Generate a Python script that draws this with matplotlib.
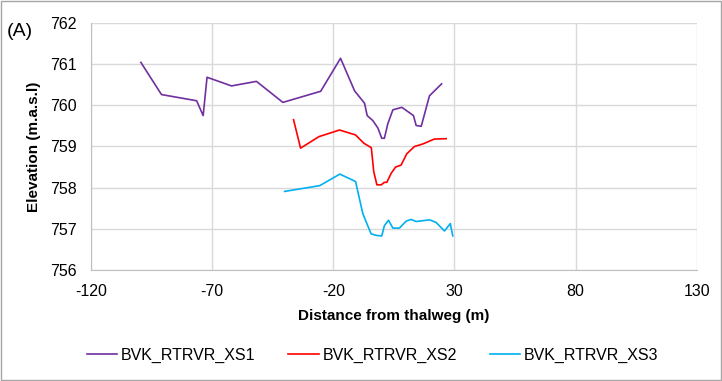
import matplotlib
matplotlib.use("Agg")
import matplotlib.pyplot as plt

plt.rcParams['font.family'] = ['Liberation Sans', 'DejaVu Sans']
plt.rcParams['axes.unicode_minus'] = False

# Cross-section profiles: distance from thalweg (m) and elevation (m.a.s.l)
xs1_dist = [-99.4, -90.9, -76.4, -73.7, -72.1, -62.0, -51.7, -40.8, -25.2, -17.0,
            -11.2, -7.1, -6.0, -3.7, -1.6, 0.0, 1.1, 2.5, 4.6, 8.3,
            13.1, 14.2, 16.3, 19.7, 24.7]
xs1_elev = [761.04, 760.26, 760.11, 759.75, 760.68, 760.47, 760.58, 760.07, 760.34, 761.14,
            760.35, 760.05, 759.75, 759.63, 759.45, 759.20, 759.20, 759.55, 759.89, 759.95,
            759.75, 759.51, 759.49, 760.23, 760.52]

xs2_dist = [-36.4, -33.5, -25.9, -17.4, -10.8, -7.4, -4.3, -3.3, -2.0, -0.2,
            1.1, 2.1, 3.9, 5.7, 8.0, 10.3, 13.5, 16.9, 21.7, 26.6]
xs2_elev = [759.65, 758.96, 759.24, 759.40, 759.28, 759.08, 758.97, 758.39, 758.07, 758.07,
            758.13, 758.13, 758.35, 758.50, 758.55, 758.82, 759.00, 759.06, 759.18, 759.19]

xs3_dist = [-40.1, -25.6, -17.3, -10.8, -7.8, -4.4, -2.0, 0.0, 1.1, 2.8,
            4.6, 7.3, 10.1, 12.1, 14.2, 19.7, 22.4, 25.9, 28.3, 29.3]
xs3_elev = [757.91, 758.05, 758.33, 758.15, 757.37, 756.88, 756.84, 756.83, 757.08, 757.21,
            757.02, 757.02, 757.19, 757.23, 757.18, 757.22, 757.16, 756.95, 757.13, 756.83]

series_names = ['BVK_RTRVR_XS1', 'BVK_RTRVR_XS2', 'BVK_RTRVR_XS3']
series_colors = ['#7030A0', '#FF0000', '#00B0F0']

x_ticks = [-120, -70, -20, 30, 80, 130]
y_ticks = [756, 757, 758, 759, 760, 761, 762]

fig = plt.figure(figsize=(7.22, 3.81), dpi=100)
ax = fig.add_axes([0.126, 0.291, 0.839, 0.649])

profiles = [(xs1_dist, xs1_elev), (xs2_dist, xs2_elev), (xs3_dist, xs3_elev)]
for (d, e), name, col in zip(profiles, series_names, series_colors):
    ax.plot(d, e, color=col, lw=1.2, label=name, solid_joinstyle='round')

ax.set_xlim(-120, 130)
ax.set_ylim(756, 762)
ax.set_xticks(x_ticks)
ax.set_yticks(y_ticks)
ax.grid(True, color='#d9d9d9', lw=1.0)
ax.set_axisbelow(True)
for side in ['top', 'right']:
    ax.spines[side].set_visible(False)
ax.spines['left'].set_color('#bfbfbf')
ax.spines['bottom'].set_color('#bfbfbf')
ax.tick_params(length=0, labelsize=11.5)
ax.tick_params(axis='y', pad=10)
ax.tick_params(axis='x', pad=10)

ax.set_xlabel('Distance from thalweg (m)', fontsize=11, fontweight='bold', labelpad=7)
ax.set_ylabel('Elevation (m.a.s.l)', fontsize=11, fontweight='bold', labelpad=7)

fig.text(0.01, 0.905, '(A)', fontsize=14)

fig.legend(loc='center', bbox_to_anchor=(0.516, 0.068), ncol=3, frameon=False,
           fontsize=11.5, handlelength=1.9, columnspacing=2.05, handletextpad=0.25)

# thin grey outline around the whole chart
fig.patches.append(plt.Rectangle((0.001, 0.002), 0.997, 0.995, transform=fig.transFigure,
                                 fill=False, edgecolor='#a6a6a6', lw=1.0))

fig.savefig('out.png', dpi=100)
